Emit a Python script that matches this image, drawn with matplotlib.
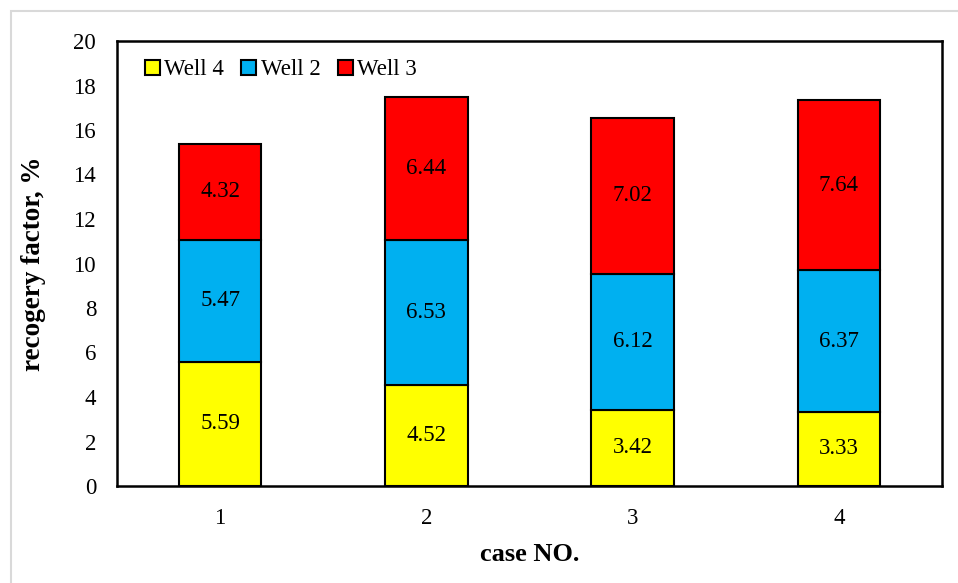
import matplotlib
matplotlib.use("Agg")
import matplotlib.pyplot as plt
from matplotlib.patches import Rectangle
import numpy as np

plt.rcParams['font.family'] = ['Liberation Serif', 'DejaVu Serif']

cases = ['1', '2', '3', '4']
well4 = [5.59, 4.52, 3.42, 3.33]
well2 = [5.47, 6.53, 6.12, 6.37]
well3 = [4.32, 6.44, 7.02, 7.64]
series = [('Well 4', well4, '#FFFF00'),
          ('Well 2', well2, '#00B0F0'),
          ('Well 3', well3, '#FF0000')]
yticks = list(range(0, 21, 2))

fig = plt.figure(figsize=(9.58, 5.83), dpi=100)
ax = fig.add_axes([117/958, 1 - 486/583, (942 - 117)/958, (486 - 41)/583])

# light frame around the chart area
fig.patches.append(Rectangle((11/958, -0.1), 1.2, 0.1 + (1 - 11/583),
                             transform=fig.transFigure, fill=False,
                             edgecolor='#D9D9D9', linewidth=1.5, zorder=0))

x = np.arange(len(cases))
bottom = np.zeros(len(cases))
for name, vals, color in series:
    vals = np.array(vals)
    ax.bar(x, vals, 0.4, bottom=bottom, color=color,
           edgecolor='black', linewidth=1.5, label=name, zorder=3)
    for xi, b, v in zip(x, bottom, vals):
        ax.text(xi, b + v / 2, f'{v:.2f}', ha='center', va='center',
                fontsize=16.5, color='black', zorder=4)
    bottom += vals

ax.set_xlim(-0.5, 3.5)
ax.set_ylim(0, 20)
ax.set_xticks(x)
ax.set_xticklabels(cases)
ax.set_yticks(yticks)
ax.tick_params(axis='both', length=0, labelsize=16.5)
ax.tick_params(axis='y', pad=15)
ax.tick_params(axis='x', pad=16)
for s in ax.spines.values():
    s.set_linewidth(1.8)
    s.set_color('black')

ax.set_ylabel('recogery factor, %', fontsize=19.5, fontweight='bold', labelpad=20)
ax.set_xlabel('case NO.', fontsize=19, fontweight='bold', labelpad=10)

ax.legend(loc='upper left', bbox_to_anchor=(0.017, 0.99), ncol=3,
          frameon=False, fontsize=16.5, handlelength=0.65, handleheight=0.65,
          handletextpad=0.2, columnspacing=0.75, borderaxespad=0.2)

fig.savefig('out.png', dpi=100)
